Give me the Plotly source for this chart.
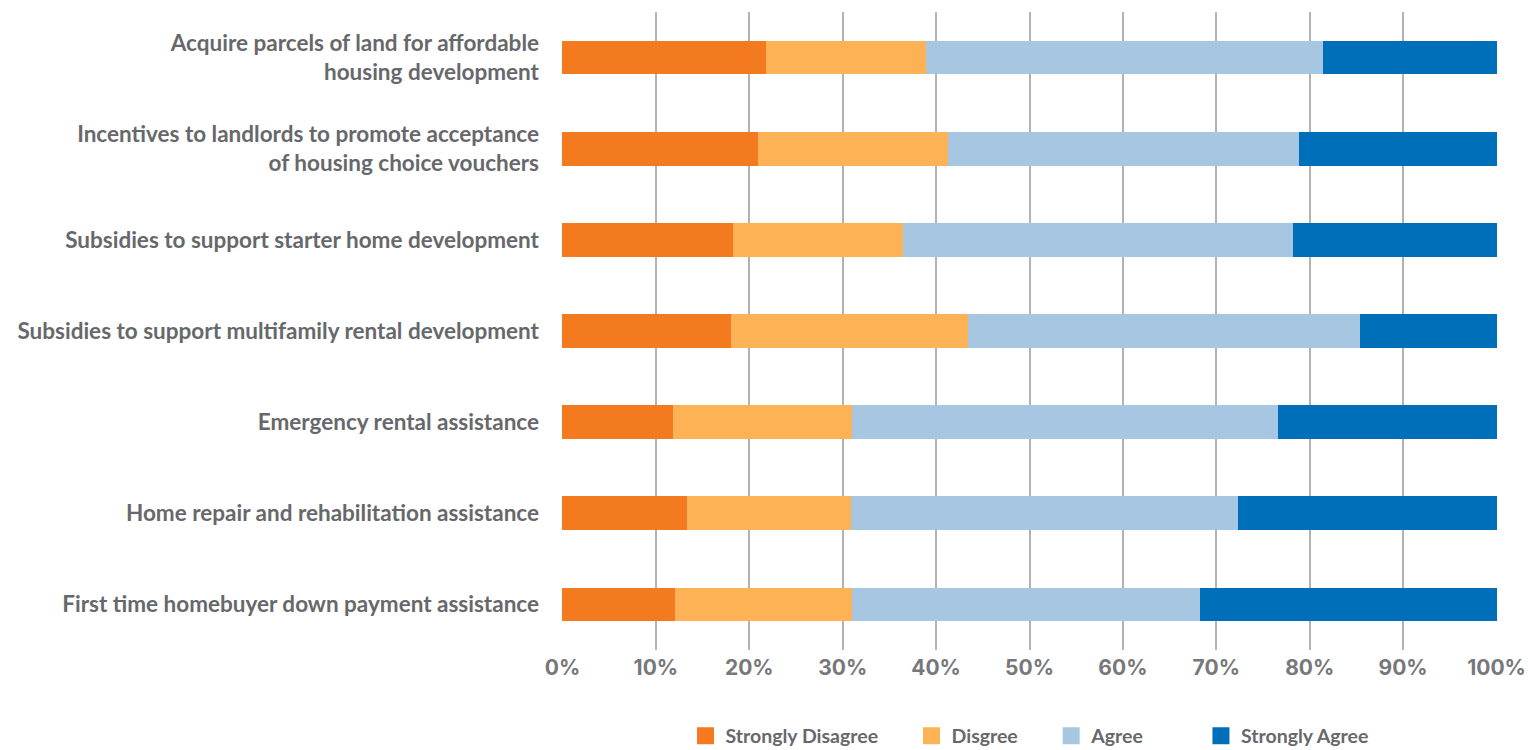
import plotly.graph_objects as go

categories = [
    "Acquire parcels of land for affordable<br>housing development",
    "Incentives to landlords to promote acceptance<br>of housing choice vouchers",
    "Subsidies to support starter home development",
    "Subsidies to support multifamily rental development",
    "Emergency rental assistance",
    "Home repair and rehabilitation assistance",
    "First time homebuyer down payment assistance",
]
strongly_disagree = [21.8, 20.9, 18.3, 18.0, 11.8, 13.3, 12.1]
disagree = [17.1, 20.4, 18.2, 25.4, 19.2, 17.6, 18.9]
agree = [42.5, 37.6, 41.7, 42.0, 45.6, 41.4, 37.3]
strongly_agree = [18.6, 21.1, 21.8, 14.6, 23.4, 27.7, 31.7]

series_names = ["Strongly Disagree", "Disgree", "Agree", "Strongly Agree"]
series_values = [strongly_disagree, disagree, agree, strongly_agree]
colors = ["#F47A20", "#FDB355", "#A6C6E2", "#006FBA"]
# trailing non-breaking spaces widen the legend entries to the reference spacing
legend_pad = [6, 6, 11, 0]

tick_vals = [0, 10, 20, 30, 40, 50, 60, 70, 80, 90, 100]
tick_text = [f"{v}%" for v in tick_vals]

gray = "#67686B"

fig = go.Figure()
for name, vals, col in zip(series_names, series_values, colors):
    fig.add_trace(go.Bar(
        y=categories, x=vals, name=name, orientation="h",
        marker=dict(color=col, line=dict(width=0)),
        showlegend=False,
    ))
# legend-only entries (bigger swatches)
for name, col, pad in zip(series_names, colors, legend_pad):
    fig.add_trace(go.Bar(
        y=[categories[0]], x=[None], name=name + "\u00a0" * pad, orientation="h",
        marker=dict(color=col, line=dict(width=5, color=col)),
        showlegend=True, hoverinfo="skip",
    ))

fig.update_layout(
    barmode="stack",
    bargap=0.63,
    width=1528, height=750,
    paper_bgcolor="white", plot_bgcolor="white",
    margin=dict(l=562, r=31, t=12, b=100, autoexpand=False),
    font=dict(family="Lato", color=gray),
    legend=dict(
        orientation="h", x=0.5, xanchor="center", y=-0.135, yanchor="middle",
        font=dict(family="Lato", size=19.5, color=gray, weight="bold"),
        traceorder="normal", itemwidth=30,
    ),
    xaxis=dict(
        range=[-0.05, 100.05], tickvals=tick_vals, ticktext=tick_text,
        showgrid=True, gridcolor="#B3B3B3", gridwidth=1.5,
        zeroline=False, showline=False,
        tickfont=dict(family="Inter", size=21, color="#77787B", weight="bold"),
        ticks="", ticklabelstandoff=3, fixedrange=True,
    ),
    yaxis=dict(
        autorange="reversed", showgrid=False, zeroline=False, showline=False,
        tickfont=dict(family="Lato", size=22.5, color=gray, weight="bold"),
        ticks="", ticklabelstandoff=22,
    ),
)

fig.write_html("out.html", config={"displayModeBar": False},
               post_script="document.body.style.margin='0px';")
